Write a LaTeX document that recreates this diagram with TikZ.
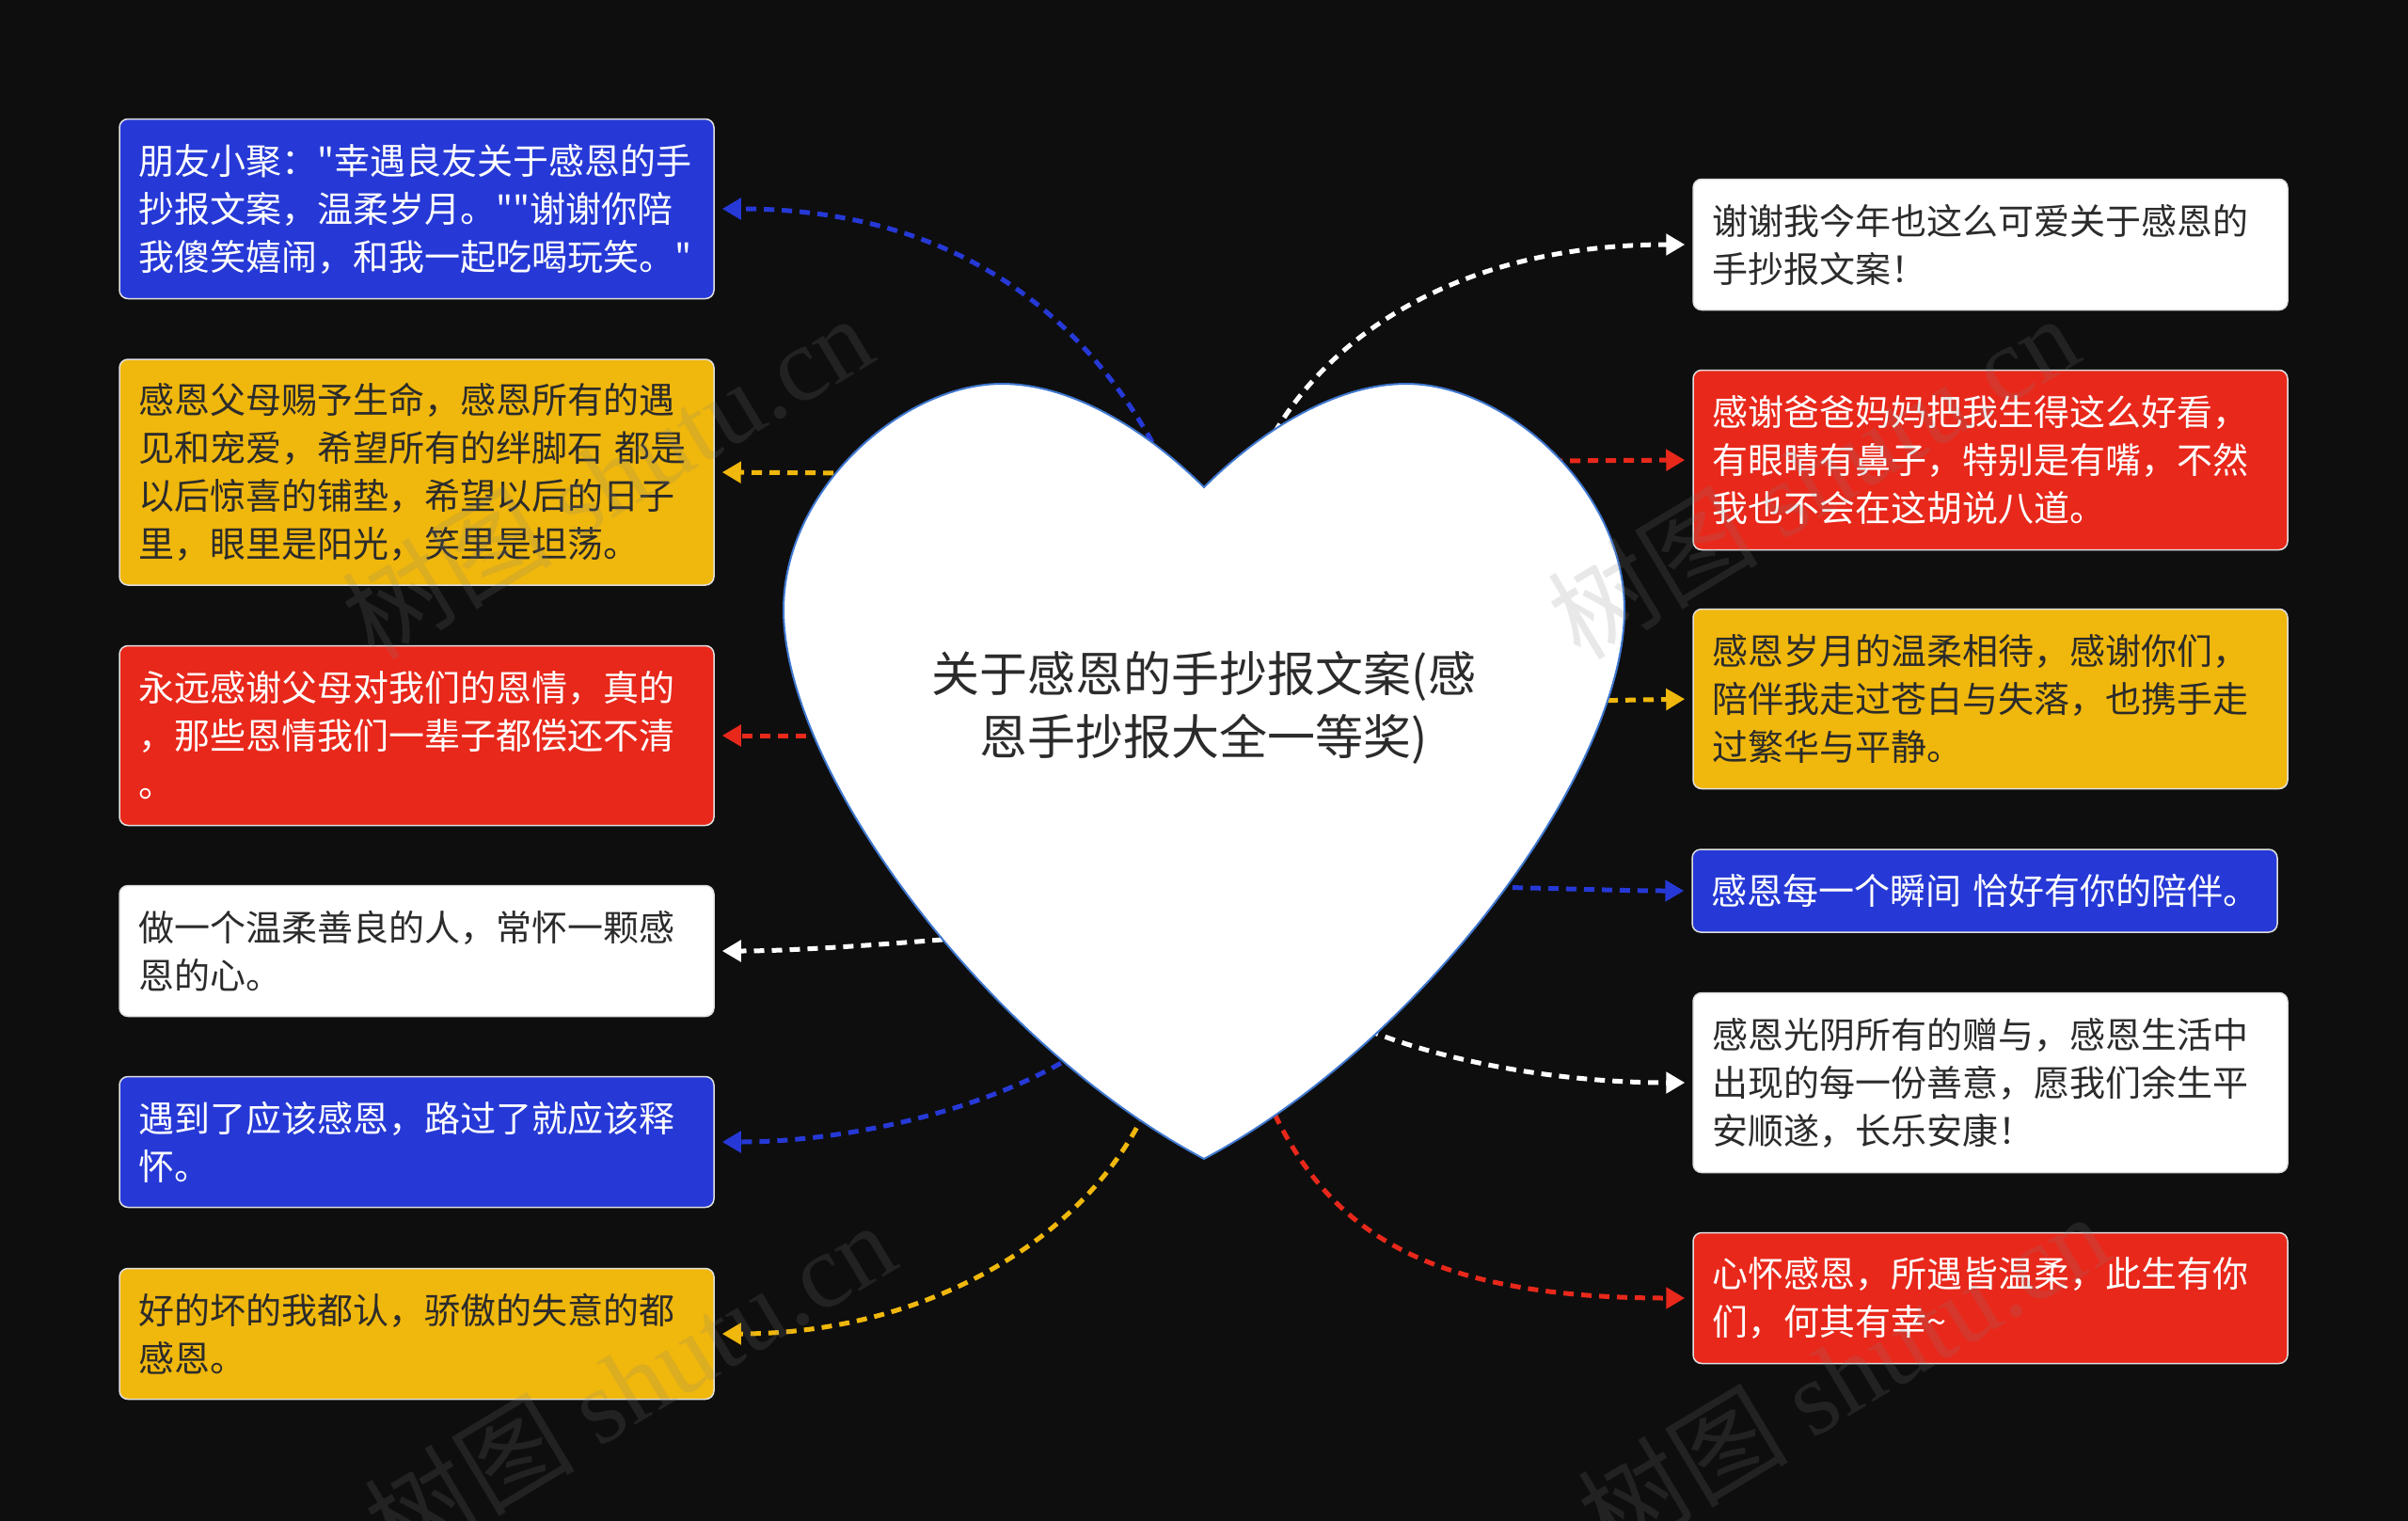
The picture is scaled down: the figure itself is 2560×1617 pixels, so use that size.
\documentclass[tikz,border=0pt]{standalone}
\usepackage{fontspec}
\newfontfamily\cjk{Noto Sans CJK SC}
\newfontfamily\wmserif{Liberation Serif}
\usetikzlibrary{arrows.meta}
\definecolor{bg}{HTML}{0E0E0E}
\definecolor{cblue}{HTML}{2639D6}
\definecolor{cyellow}{HTML}{F0B70C}
\definecolor{cred}{HTML}{E8281B}
\definecolor{ctext}{HTML}{2B2B2B}
\definecolor{heartline}{HTML}{3F78D0}
\begin{document}
\begin{tikzpicture}[x=1pt,y=-1pt,
  card/.style={rounded corners=9pt, draw=white!88!black, line width=1.5pt,
    inner xsep=20pt, inner ysep=0pt, text width=592pt, align=left,
    font=\cjk\fontsize{38}{51}\selectfont},
  hone/.style={minimum height=88pt},
  htwo/.style={minimum height=139pt},
  hthree/.style={minimum height=191pt},
  hfour/.style={minimum height=240pt},
  bluecard/.style={card, fill=cblue, text=white},
  redcard/.style={card, fill=cred, text=white},
  yellowcard/.style={card, fill=cyellow, text=ctext},
  whitecard/.style={card, fill=white, text=ctext},
  conn/.style={line width=5pt, dash pattern=on 11pt off 8pt,
    -{Triangle[length=20pt,width=22pt]}, shorten >=8pt},
  wmark/.style={text=gray, opacity=0.18, rotate=31, font=\cjk\fontsize{112}{114}\selectfont}
]
\useasboundingbox (0,0) rectangle (2560,1617);
\fill[bg] (0,0) rectangle (2560,1617);

% boxes
\node[bluecard, hthree] (L1) at (443,222) {朋友小聚："幸遇良友关于感恩的手\\抄报文案，温柔岁月。""谢谢你陪\\我傻笑嬉闹，和我一起吃喝玩笑。"};
\node[yellowcard, hfour] (L2) at (443,502) {感恩父母赐予生命，感恩所有的遇\\见和宠爱，希望所有的绊脚石 都是\\以后惊喜的铺垫，希望以后的日子\\里，眼里是阳光，笑里是坦荡。};
\node[redcard, hthree] (L3) at (443,782) {永远感谢父母对我们的恩情，真的\\，那些恩情我们一辈子都偿还不清\\。};
\node[whitecard, htwo] (L4) at (443,1011) {做一个温柔善良的人，常怀一颗感\\恩的心。};
\node[bluecard, htwo] (L5) at (443,1214) {遇到了应该感恩，路过了就应该释\\怀。};
\node[yellowcard, htwo] (L6) at (443,1418) {好的坏的我都认，骄傲的失意的都\\感恩。};

\node[whitecard, htwo] (R1) at (2116,260) {谢谢我今年也这么可爱关于感恩的\\手抄报文案！};
\node[redcard, hthree] (R2) at (2116,489) {感谢爸爸妈妈把我生得这么好看，\\有眼睛有鼻子，特别是有嘴，不然\\我也不会在这胡说八道。};
\node[yellowcard, hthree] (R3) at (2116,743) {感恩岁月的温柔相待，感谢你们，\\陪伴我走过苍白与失落，也携手走\\过繁华与平静。};
\node[bluecard, hone, text width=582pt] (R4) at (2110,947) {\mbox{感恩每一个瞬间 恰好有你的陪伴。}};
\node[whitecard, hthree] (R5) at (2116,1151) {感恩光阴所有的赠与，感恩生活中\\出现的每一份善意，愿我们余生平\\安顺遂，长乐安康！};
\node[redcard, htwo] (R6) at (2116,1380) {心怀感恩，所遇皆温柔，此生有你\\们，何其有幸\string~};

% connector start points (inside the heart)
\coordinate (sL1) at (1225,470);
\coordinate (sL2) at (905,503);
\coordinate (sL3) at (895,782);
\coordinate (sL4) at (1040,996);
\coordinate (sL5) at (1160,1110);
\coordinate (sL6) at (1225,1165);
\coordinate (sR1) at (1355,460);
\coordinate (sR2) at (1650,490);
\coordinate (sR3) at (1690,745);
\coordinate (sR4) at (1570,943);
\coordinate (sR5) at (1420,1080);
\coordinate (sR6) at (1340,1150);

% connectors
\draw[conn, cblue] (sL1) .. controls (1140,320) and (1000,222) .. (L1.east);
\draw[conn, cyellow] (sL2) -- (L2.east);
\draw[conn, cred] (sL3) -- (L3.east);
\draw[conn, white] (sL4) .. controls (950,1003) and (850,1011) .. (L4.east);
\draw[conn, cblue] (sL5) .. controls (1060,1180) and (900,1214) .. (L5.east);
\draw[conn, cyellow] (sL6) .. controls (1160,1320) and (980,1418) .. (L6.east);

\draw[conn, white] (sR1) .. controls (1420,350) and (1560,260) .. (R1.west);
\draw[conn, cred] (sR2) -- (R2.west);
\draw[conn, cyellow] (sR3) -- (R3.west);
\draw[conn, cblue] (sR4) .. controls (1650,944) and (1720,947) .. (R4.west);
\draw[conn, white] (sR5) .. controls (1510,1125) and (1650,1151) .. (R5.west);
\draw[conn, cred] (sR6) .. controls (1400,1300) and (1500,1380) .. (R6.west);

% heart
\draw[fill=white, draw=heartline, line width=2pt]
  (1280,518) .. controls (1220,458) and (1140,408) .. (1065,408)
  .. controls (960,408) and (833,520) .. (833,648)
  .. controls (833,820) and (1050,1110) .. (1280,1232)
  .. controls (1510,1110) and (1727,820) .. (1727,648)
  .. controls (1727,520) and (1600,408) .. (1495,408)
  .. controls (1420,408) and (1340,458) .. (1280,518) -- cycle;

\node[font=\cjk\fontsize{51}{67}\selectfont, text=ctext, align=center] (title) at (1280,752)
  {关于感恩的手抄报文案(感\\恩手抄报大全一等奖)};

% watermarks
\node[wmark] (wm1) at (645,506) {树图 {\wmserif shutu.cn}};
\node[wmark] (wm2) at (669,1470) {树图 {\wmserif shutu.cn}};
\node[wmark] (wm3) at (1927,506) {树图 {\wmserif shutu.cn}};
\node[wmark] (wm4) at (1959,1461) {树图 {\wmserif shutu.cn}};
\end{tikzpicture}
\end{document}
